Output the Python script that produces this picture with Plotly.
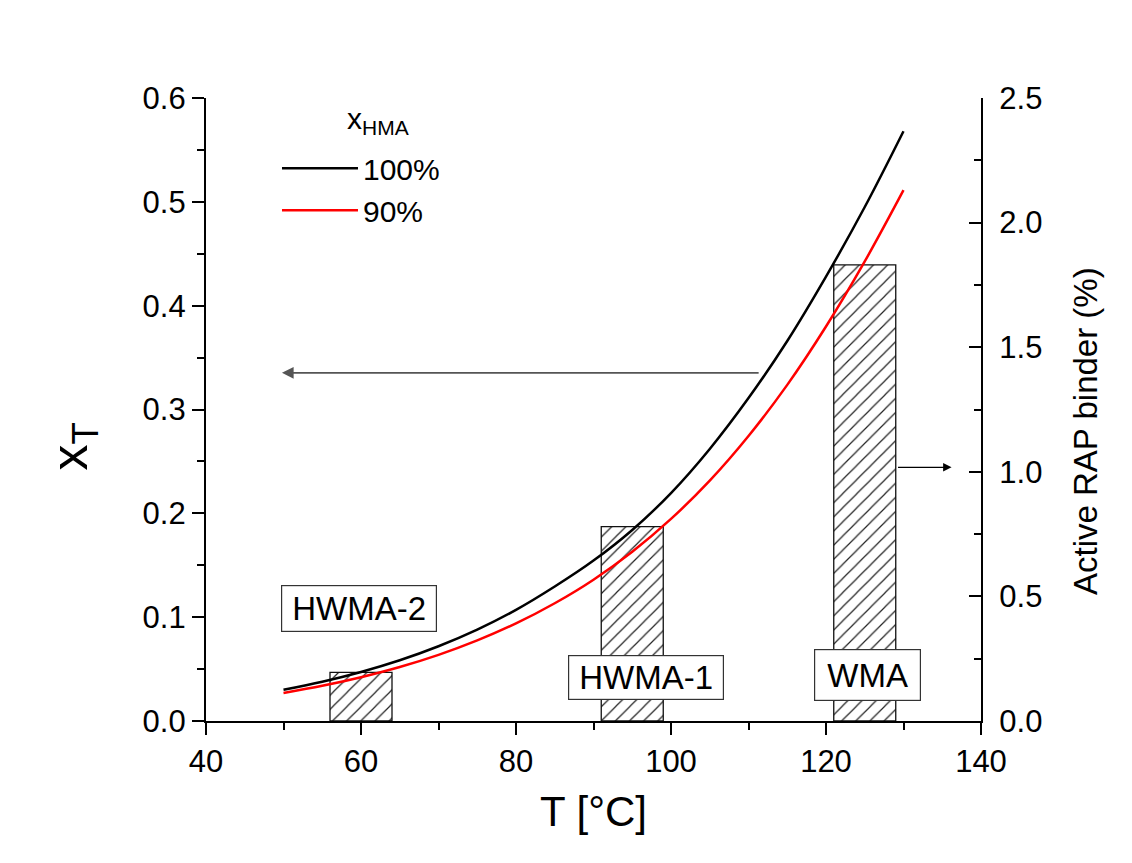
import plotly.graph_objects as go

# ---------------- data ----------------
T = [50, 55, 60, 65, 70, 75, 80, 85, 90, 95, 100, 105, 110, 115, 120, 125, 130]
x_hma_100 = [0.0300, 0.0378, 0.0472, 0.0585, 0.0720, 0.0880, 0.1070, 0.1295, 0.1545, 0.1840,
             0.2195, 0.2620, 0.3110, 0.3660, 0.4280, 0.4950, 0.5680]
x_hma_90 = [0.0270, 0.0339, 0.0422, 0.0520, 0.0637, 0.0776, 0.0940, 0.1134, 0.1361, 0.1630,
            0.1946, 0.2315, 0.2745, 0.3237, 0.3799, 0.4426, 0.5112]

mix_names = ["HWMA-2", "HWMA-1", "WMA"]
mix_T = [60, 95, 125]
active_rap = [0.195, 0.78, 1.83]

FONT = "Liberation Sans, Arial, sans-serif"

fig = go.Figure()

# bars: active RAP binder (right axis, base y)
fig.add_trace(go.Bar(
    x=mix_T, y=active_rap, width=8, yaxis="y", xaxis="x",
    marker=dict(color="white", line=dict(color="#111", width=1.3),
                pattern=dict(shape="/", fgcolor="#222", bgcolor="white", size=10,
                             solidity=0.12, fgopacity=1)),
    showlegend=False, hoverinfo="skip",
))

# curves (left axis, y2)
fig.add_trace(go.Scatter(x=T, y=x_hma_100, mode="lines", name="100%", yaxis="y2",
                         line=dict(color="black", width=2.5, shape="spline")))
fig.add_trace(go.Scatter(x=T, y=x_hma_90, mode="lines", name="90%", yaxis="y2",
                         line=dict(color="#ff0000", width=2.5, shape="spline")))

axis_common = dict(showline=True, linecolor="black", linewidth=2.2,
                   ticklen=12, tickwidth=2, tickcolor="black", showgrid=False, zeroline=False,
                   tickfont=dict(family=FONT, size=31, color="black"))

fig.update_layout(
    width=1124, height=855,
    margin=dict(l=198, r=151, t=90, b=142),
    paper_bgcolor="white", plot_bgcolor="white",
    font=dict(family=FONT, color="black"),
    xaxis=dict(range=[40, 140], dtick=20, tick0=40, ticks="outside",
               minor=dict(dtick=10, ticklen=7, tickwidth=2, tickcolor="black", ticks="outside"),
               title=dict(text="T [°C]", font=dict(family=FONT, size=42), standoff=18),
               anchor="y2", **axis_common),
    yaxis=dict(range=[0, 2.5], dtick=0.5, tickformat=".1f", side="right", anchor="x", ticks="inside",
               ticklabelstandoff=10,
               minor=dict(dtick=0.25, ticklen=7, tickwidth=2, tickcolor="black", ticks="inside"),
               **axis_common),
    yaxis2=dict(range=[0, 0.6], dtick=0.1, tickformat=".1f", side="left", overlaying="y", anchor="x",
                ticks="outside", mirror=True,
                minor=dict(dtick=0.05, ticklen=7, tickwidth=2, tickcolor="black", ticks="outside"),
                **axis_common),
    legend=dict(x=0.0916, y=0.929, xanchor="left", yanchor="top", bgcolor="rgba(0,0,0,0)",
                font=dict(family=FONT, size=30), itemwidth=76, tracegroupgap=0),
    showlegend=True,
)

# axis titles placed as rotated annotations
fig.add_annotation(text="x<sub>T</sub>", xref="paper", yref="paper", x=-0.172, y=0.44,
                   xanchor="center", yanchor="middle",
                   textangle=-90, showarrow=False, font=dict(family=FONT, size=52))
fig.add_annotation(text="Active RAP binder (%)", xref="paper", yref="paper", x=1.1355, y=0.4655,
                   xanchor="center", yanchor="middle",
                   textangle=-90, showarrow=False, font=dict(family=FONT, size=33))

# legend title
fig.add_annotation(text="x<sub>HMA</sub>", xref="x", yref="y2", x=62.2, y=0.578,
                   showarrow=False, font=dict(family=FONT, size=30))

# labelled boxes
box_pos_y = [0.1085, 0.0415, 0.044]
box_pos_x = [59.7, 96.8, 125.3]
box_w = [146, 146, 97]
box_h = [37, 35, 42]
for name, bx, by, w, h in zip(mix_names, box_pos_x, box_pos_y, box_w, box_h):
    fig.add_annotation(text=name, xref="x", yref="y2", x=bx, y=by, showarrow=False,
                       font=dict(family=FONT, size=33, color="black"),
                       bgcolor="white", bordercolor="#333", borderwidth=1.2, borderpad=4,
                       width=w, height=h)

# arrows pointing to the axes
fig.add_annotation(xref="x", yref="y2", x=49.8, y=0.3353, axref="x", ayref="y2", ax=111.5, ay=0.3353,
                   showarrow=True, arrowhead=2, arrowsize=1.3, arrowwidth=1.8, arrowcolor="#555", text="")
fig.add_annotation(xref="x", yref="y", x=136.2, y=1.018, axref="x", ayref="y", ax=129.1, ay=1.018,
                   showarrow=True, arrowhead=2, arrowsize=1.4, arrowwidth=1.2, arrowcolor="black", text="")

fig.write_html("out.html")
